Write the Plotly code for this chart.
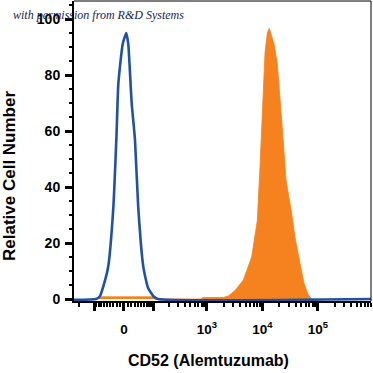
import numpy as np
import plotly.graph_objects as go

# ---- data (raw fluorescence intensity, biexponential display) ----
W = 64.0  # linear width of biexponential transform

iso_x = [-2000, -92, -75, -62, -45, -29, -20, -15, -3.4, 6.1, 11.5, 20.8, 30.2, 40, 57, 75, 99, 123, 1e6]
iso_y = [0, 0, 1, 4.4, 11.5, 33, 59, 77, 91, 95, 91, 70, 57, 33, 11.5, 4, 1, 0, 0]

cd52_x = [-80, -75, 99, 107, 780, 847, 2000, 2393, 3200, 4520, 6400, 8070, 9020, 10100, 11120,
          12220, 13280, 16150, 18500, 22200, 26550, 32670, 38560, 47450, 56000, 67000, 77100, 90000]
cd52_y = [0, 0.8, 0.8, 0, 0, 0.5, 0.6, 1, 3, 6.8, 15, 28, 47, 70, 88,
          95, 96.7, 91, 84, 64, 42.5, 32, 22, 12.7, 5.6, 1.4, 0, 0]

x_major_vals = [-100, 0, 100, 1e3, 1e4, 1e5]
x_major_text = ["", "0", "",
                "10<sup style='font-size:12px'>3</sup>",
                "10<sup style='font-size:12px'>4</sup>",
                "10<sup style='font-size:12px'>5</sup>"]
y_tick_vals = [0, 20, 40, 60, 80, 100]


def biex(v):
    return np.arcsinh(np.asarray(v, dtype=float) / W) / np.log(10)


minor_raw = ([-900, -800, -700, -600, -500, -400, -300, -200]
             + [-s * 10 for s in range(1, 10)] + [s * 10 for s in range(1, 10)]
             + [s * 100 for s in range(2, 10)]
             + [s * 1000 for s in range(2, 10)]
             + [s * 10000 for s in range(2, 10)]
             + [s * 100000 for s in range(2, 10)])

BLUE = "#22529F"
ORANGE = "#F5821F"

fig = go.Figure()
fig.add_trace(go.Scatter(x=biex(cd52_x), y=cd52_y, mode="lines", fill="tozeroy",
                         fillcolor=ORANGE, line=dict(color=ORANGE, width=0.8),
                         hoverinfo="skip", showlegend=False))
fig.add_trace(go.Scatter(x=biex(iso_x), y=iso_y, mode="lines",
                         line=dict(color=BLUE, width=2.6, shape="spline", smoothing=0.5),
                         hoverinfo="skip", showlegend=False))

# plot area: x 74..371 px, y 1..301 px
L, R, T, B = 74, 2, 1, 72
PW, PH = 373 - L - R, 373 - T - B


def px(xp):
    return (xp - L) / PW


def py(yp):
    return (373 - B - yp) / PH


font_bold = dict(family="Liberation Sans, Arial, sans-serif", color="black", weight="bold")

fig.update_layout(
    width=373, height=373,
    margin=dict(l=L, r=R, t=T, b=B),
    paper_bgcolor="white", plot_bgcolor="white",
    xaxis=dict(range=[-0.90, 4.45], showgrid=False, zeroline=False,
               showline=True, linecolor="black", linewidth=1.5,
               tickmode="array", tickvals=list(biex(x_major_vals)), ticktext=x_major_text,
               ticks="outside", ticklen=8, tickwidth=3, tickcolor="black",
               tickfont=dict(size=13.5, **font_bold), ticklabelstandoff=7,
               minor=dict(tickmode="array", tickvals=list(biex(minor_raw)), ticks="outside",
                          ticklen=4, tickwidth=1.5, tickcolor="black"),
               fixedrange=True, automargin=False),
    yaxis=dict(range=[-0.71, 106.43], showgrid=False, zeroline=False,
               showline=True, linecolor="black", linewidth=2,
               tickmode="array", tickvals=y_tick_vals,
               ticks="outside", ticklen=7, tickwidth=3, tickcolor="black",
               tickfont=dict(size=14, **font_bold), ticklabelstandoff=2,
               minor=dict(dtick=5, tick0=0, ticks="outside", ticklen=3.5, tickwidth=1.5, tickcolor="black"),
               fixedrange=True, automargin=False),
    shapes=[
        dict(type="line", xref="paper", yref="paper", x0=0, x1=1, y0=1, y1=1,
             line=dict(color="black", width=1)),
        dict(type="line", xref="paper", yref="paper", x0=1, x1=1, y0=0, y1=1,
             line=dict(color="black", width=1)),
    ],
    annotations=[
        dict(text="Relative Cell Number", xref="paper", yref="paper", x=px(10), y=py(176),
             xanchor="center", yanchor="middle", textangle=-90, showarrow=False,
             font=dict(size=17, **font_bold)),
        dict(text="CD52 (Alemtuzumab)", xref="paper", yref="paper", x=px(208), y=py(360),
             xanchor="center", yanchor="middle", showarrow=False,
             font=dict(size=16, **font_bold)),
        dict(text="<i>with permission from R&amp;D Systems</i>", xref="paper", yref="paper",
             x=px(11), y=py(15), xanchor="left", yanchor="middle", showarrow=False,
             font=dict(size=12, family="Liberation Serif, Times New Roman, serif", color="#1B2352")),
    ],
)

fig.write_html("out.html", config={"displayModeBar": False},
               post_script="document.body.style.margin='0';document.body.style.padding='0';")
